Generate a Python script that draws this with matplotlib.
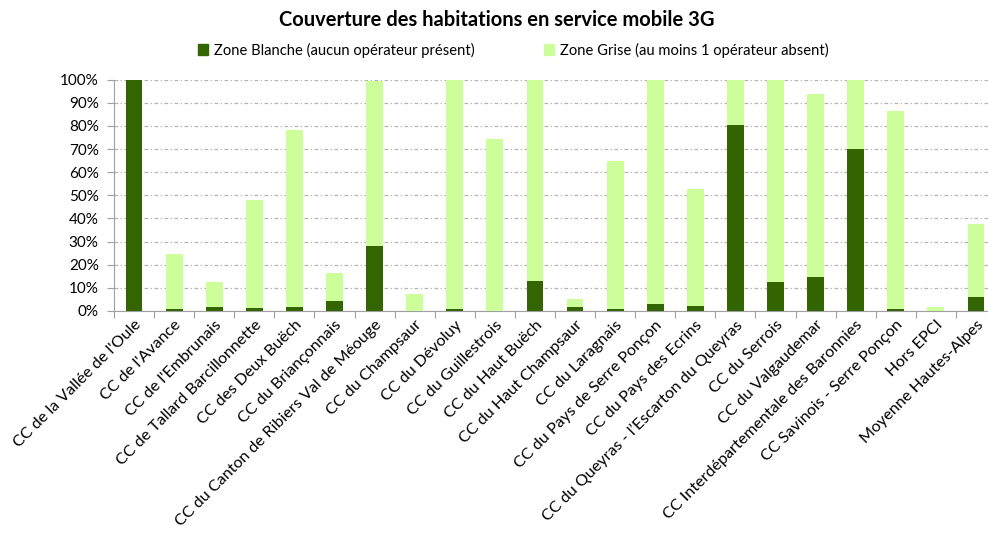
import matplotlib
matplotlib.use("Agg")
import matplotlib.pyplot as plt
from matplotlib import patches
import numpy as np

plt.rcParams['font.family'] = ['Lato', 'DejaVu Sans']

categories = [
    "CC de la Vallée de l'Oule", "CC de l'Avance", "CC de l'Embrunais",
    "CC de Tallard Barcillonnette", "CC des Deux Buëch", "CC du Briançonnais",
    "CC du Canton de Ribiers Val de Méouge", "CC du Champsaur", "CC du Dévoluy",
    "CC du Guillestrois", "CC du Haut Buëch", "CC du Haut Champsaur",
    "CC du Laragnais", "CC du Pays de Serre Ponçon", "CC du Pays des Ecrins",
    "CC du Queyras - l’Escarton du Queyras", "CC du Serrois", "CC du Valgaudemar",
    "CC Interdépartementale des Baronnies", "CC Savinois - Serre Ponçon",
    "Hors EPCI", "Moyenne Hautes-Alpes",
]
# zone blanche (dark) and total height (blanche + grise), in %
blanche = [100, 1.0, 1.6, 1.3, 1.6, 4.5, 28.3, 0.0, 1.0, 0.2, 12.9, 1.6,
           0.7, 3.0, 2.2, 80.3, 12.7, 14.6, 69.9, 0.9, 0.0, 6.2]
total = [100, 24.8, 12.6, 48.0, 78.4, 16.3, 99.4, 7.4, 100, 74.3, 100, 5.1,
         64.8, 100, 52.7, 100, 100, 93.9, 100, 86.6, 1.9, 37.7]
grise = [t - b for t, b in zip(total, blanche)]

dark = '#336600'
light = '#ccff99'

fig = plt.figure(figsize=(9.88, 5.34), dpi=100)
ax = fig.add_axes([114 / 988, 1 - 311 / 534, 882 / 988, (311 - 79.7) / 534])

x = np.arange(len(categories))
ax.bar(x, blanche, width=0.42, color=dark, zorder=3)
ax.bar(x, grise, width=0.42, bottom=blanche, color=light, zorder=3)

ax.set_xlim(-0.5, len(categories) - 0.5)
ax.set_ylim(0, 100)
ax.set_yticks(range(0, 101, 10))
ax.set_yticklabels([f"{v}%" for v in range(0, 101, 10)], fontsize=11)
ax.yaxis.grid(True, color='#b4b4b4', linestyle=(0, (3, 2, 1, 2)), linewidth=0.9, zorder=0)

ax.set_xticks(np.arange(len(categories) + 1) - 0.5)
ax.set_xticklabels([])
ax.set_xticks(x, minor=True)
ax.set_xticklabels(categories, minor=True, rotation=45, ha='right',
                   rotation_mode='anchor', fontsize=11.6)
ax.tick_params(axis='x', which='minor', length=0, pad=5)
ax.tick_params(axis='x', which='major', length=5, color='#a0a0a0', direction='out')
ax.tick_params(axis='y', length=5, color='#a0a0a0', pad=6)

for side in ['top', 'right']:
    ax.spines[side].set_visible(False)
for side in ['left', 'bottom']:
    ax.spines[side].set_color('#a0a0a0')

fig.text(497 / 988, 1 - 20 / 534, "Couverture des habitations en service mobile 3G",
         ha='center', va='center', fontsize=14.5, fontweight='bold')

h1 = patches.Patch(color=dark, label='Zone Blanche (aucun opérateur présent)')
h2 = patches.Patch(color=light, label='Zone Grise (au moins 1 opérateur absent)')
fig.legend(handles=[h1, h2], ncol=2, frameon=False, loc='center',
           bbox_to_anchor=(513.5 / 988, 1 - 50 / 534), fontsize=10.6,
           handlelength=0.7, handleheight=0.7, handletextpad=0.4, columnspacing=4.7)

fig.savefig("out.png", dpi=100)
